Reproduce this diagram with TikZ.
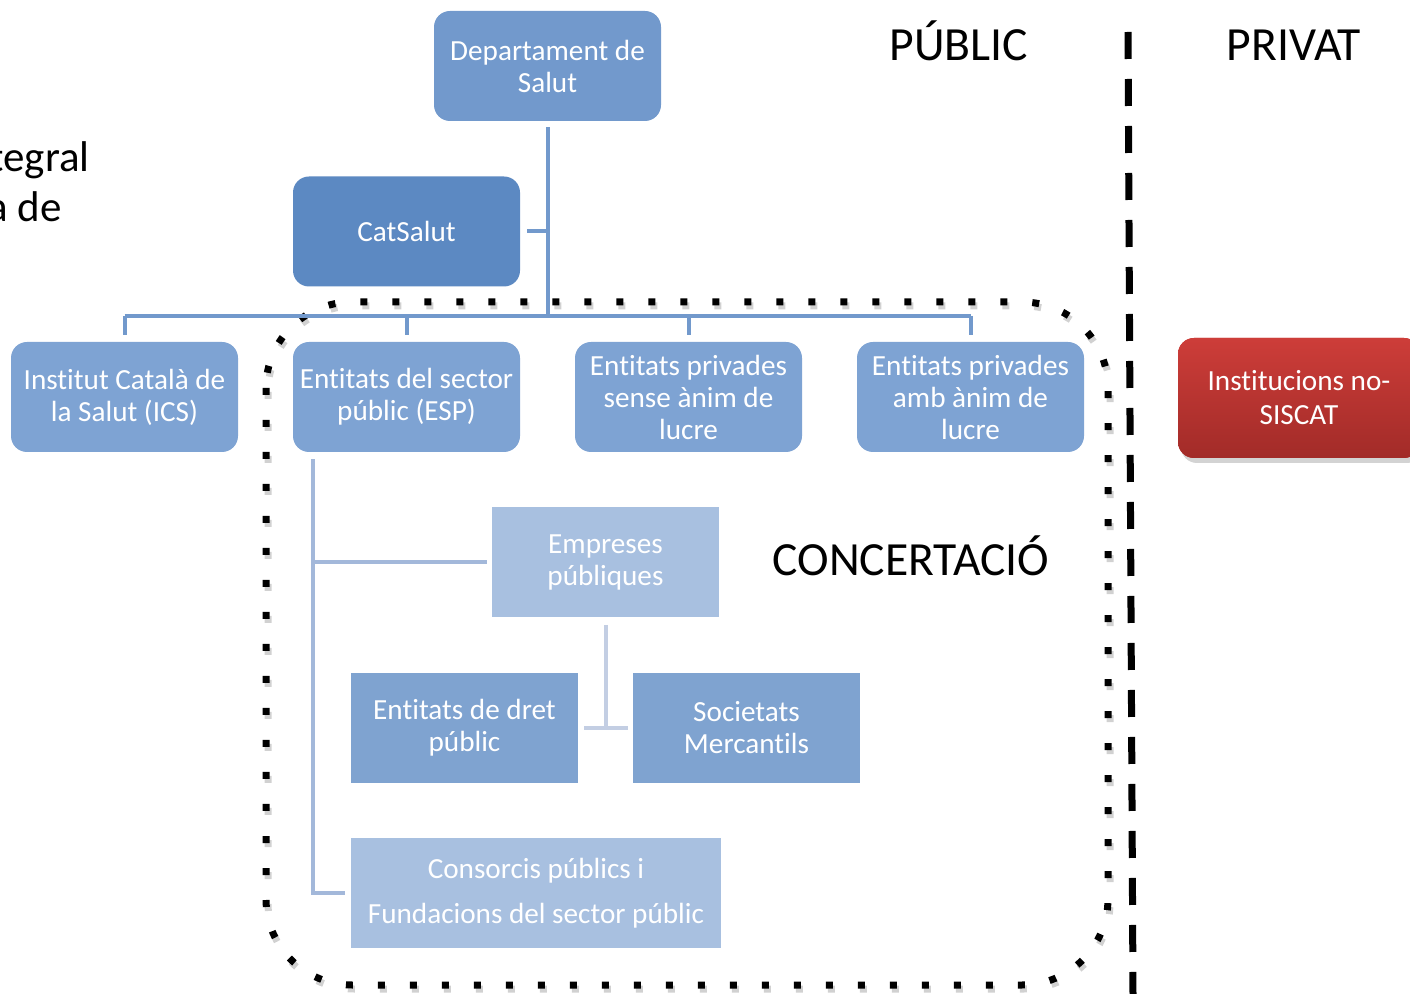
\documentclass[tikz,border=0pt]{standalone}
\usepackage{fontspec}
\setmainfont{Carlito}[Ligatures=NoCommon]
\usetikzlibrary{
	positioning,
	shadows,
}
\definecolor{deptblue}{HTML}{7299CC}
\definecolor{catblue}{HTML}{5C89C2}
\definecolor{rowblue}{HTML}{7EA3D3}
\definecolor{midblue}{HTML}{7FA3D0}
\definecolor{paleblue}{HTML}{A8C0E0}
\definecolor{espline}{HTML}{A3B8DA}
\definecolor{tline}{HTML}{C3CEE3}
\definecolor{redtop}{HTML}{CD3D39}
\definecolor{redbot}{HTML}{A22B28}
\tikzset{box/.style={draw=none,fill=#1,text=white,minimum width=113.5pt,minimum height=55pt,inner sep=1pt,align=center,font=\fontsize{14.6}{16}\selectfont,}}
\tikzset{rbox/.style={box=#1,rounded corners=8pt,}}
\tikzset{conn/.style={draw=#1,line width=2pt,}}
\tikzset{bigtext/.style={font=\fontsize{23.8}{27}\selectfont,inner sep=0pt,anchor=base,}}
\tikzset{dots/.style={line width=3.5pt,dash pattern=on 3.5pt off 12.5pt,rounded corners=43pt,}}
\tikzset{divider/.style={line width=3.5pt,dash pattern=on 13.5pt off 10pt,}}

\begin{document}
\begin{tikzpicture}[x=0.5pt,y=-0.5pt]
\useasboundingbox (0,0) rectangle (1410,994);

% cut text at the left border
\node[bigtext,font=\fontsize{21.5}{25}\selectfont,anchor=base east] (cutA) at (90,172) {tegral};
\node[bigtext,font=\fontsize{21.5}{25}\selectfont,anchor=base east] (cutB) at (62,222) {a de};

% public / private
\node[bigtext] (pub) at (959,61) {PÚBLIC};
\node[bigtext] (priv) at (1294,61) {PRIVAT};
\node[bigtext] (conc) at (911,576) {CONCERTACIÓ};
\coordinate (divtop) at (1128,32);
\coordinate (divbot) at (1133,994);
\draw[divider] (divtop) -- (divbot);

% concertacio frame
\draw[dots,black!30,opacity=.6] (268,306) rectangle (1110,989);
\draw[dots] (266,302) rectangle (1108,985);

\node[rbox=deptblue] (dept) at (547.5,66) {Departament de\\Salut};
\node[rbox=catblue] (cat) at (406.5,231.5) {CatSalut};

\foreach \n/\x/\t in {ics/124.5/{Institut Català de\\la Salut (ICS)},
	esp/406.5/{Entitats del sector\\públic (ESP)},
	sense/688.5/{Entitats privades\\sense ànim de\\lucre},
	amb/970.5/{Entitats privades\\amb ànim de\\lucre}}{
	\node[rbox=rowblue] (\n) at (\x,397) {\t};
}

\node[box=paleblue] (emp) at (605.5,562.5) {Empreses\\públiques};
\node[box=midblue] (dret) at (464.5,728) {Entitats de dret\\públic};
\node[box=midblue] (soc) at (746.5,728) {Societats\\Mercantils};
\node[box=paleblue,minimum width=185pt] (cons) at (536,893) {Consorcis públics i\\[6.5pt]Fundacions del sector públic};

\node[rbox=redtop,top color=redtop,bottom color=redbot,minimum width=121pt,minimum height=60pt,
	drop shadow={opacity=0.35,shadow xshift=1.5pt,shadow yshift=-2.5pt}] (nosis) at (1299,398) {Institucions no-\\[1pt]SISCAT};

% main tree
\coordinate (bus) at (547.5,316);
\draw[conn=deptblue] ([yshift=-3pt]dept.south) -- (bus);
\draw[conn=deptblue] ([xshift=3.5pt]cat.east) -- (cat.east -| bus);
\draw[conn=deptblue] (ics.north |- bus) -- (amb.north |- bus);
\foreach \n in {ics,esp,sense,amb}{
	\draw[conn=deptblue] (\n.north |- bus) -- ([yshift=3.5pt]\n.north);
}

% ESP tree
\coordinate (espv) at ([xshift=10pt,yshift=-3.5pt]esp.south west);
\draw[conn=espline] (espv) |- ([xshift=-3pt]cons.west);
\draw[conn=espline] (espv |- emp.west) -- ([xshift=-2.5pt]emp.west);
\draw[conn=tline] ([yshift=-3.5pt]emp.south) -- (emp.south |- dret.east);
\draw[conn=tline] ([xshift=3pt]dret.east) -- ([xshift=-2.5pt]soc.west);

\end{tikzpicture}
\end{document}
